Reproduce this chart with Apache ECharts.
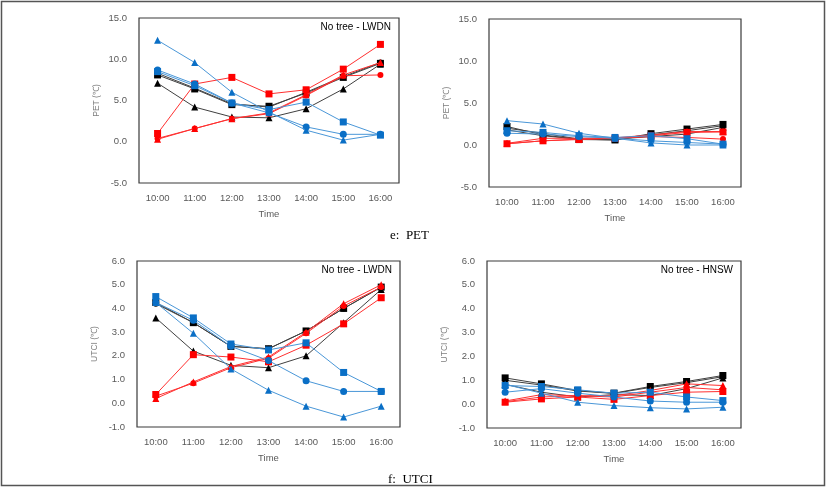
<!DOCTYPE html>
<html><head><meta charset="utf-8">
<script src="https://cdn.jsdelivr.net/npm/echarts@6/dist/echarts.min.js"></script>
<style>html,body{margin:0;padding:0;background:#fff}#c{width:827px;height:488px}</style>
</head><body><div id="c"></div>
<script>
// categories
const times = ['10:00','11:00','12:00','13:00','14:00','15:00','16:00'];

// Panel e-1: PET, No tree - LWDN
const petL_blueTri = [12.3, 9.6, 6.0, 3.6, 1.4, 0.2, 0.9];
const petL_blueCir = [8.7, 7.0, 4.7, 3.5, 1.8, 0.9, 0.9];
const petL_blueSq  = [8.5, 6.8, 4.7, 3.9, 4.8, 2.4, 0.8];
const petL_blackTri = [7.1, 4.2, 3.0, 2.9, 4.0, 6.4, 9.4];
const petL_blackCir = [8.3, 6.5, 4.6, 4.2, 6.0, 7.9, 9.6];
const petL_blackSq  = [8.1, 6.4, 4.5, 4.3, 5.9, 7.8, 9.5];
const petL_redTri = [0.3, 1.6, 2.8, 3.5, 5.7, 8.1, 9.6];
const petL_redCir = [0.4, 1.6, 2.8, 3.4, 5.6, 8.0, 8.1];
const petL_redSq  = [1.0, 7.0, 7.8, 5.8, 6.3, 8.8, 11.8];

// Panel e-2: PET, No tree - HNSW
const petH_blueTri = [2.9, 2.5, 1.4, 0.8, 0.25, 0.0, 0.0];
const petH_blueCir = [1.4, 1.3, 1.0, 0.8, 0.5, 0.3, 0.1];
const petH_blueSq  = [1.7, 1.5, 1.1, 0.9, 1.1, 0.75, 0.1];
const petH_blackTri = [1.8, 1.1, 0.7, 0.7, 1.0, 1.3, 2.1];
const petH_blackCir = [2.0, 1.4, 0.7, 0.6, 1.2, 1.7, 2.3];
const petH_blackSq  = [2.2, 1.2, 0.65, 0.6, 1.35, 1.9, 2.45];
const petH_redTri = [0.2, 0.8, 0.8, 0.85, 1.2, 1.6, 1.6];
const petH_redCir = [0.15, 0.5, 0.7, 0.8, 1.0, 0.9, 0.7];
const petH_redSq  = [0.15, 0.5, 0.65, 0.8, 1.1, 1.5, 1.55];

// Panel f-1: UTCI, No tree - LWDN
const utciL_blueTri = [4.25, 2.95, 1.45, 0.55, -0.12, -0.58, -0.12];
const utciL_blueCir = [4.25, 3.5, 2.4, 1.8, 0.95, 0.5, 0.5];
const utciL_blueSq  = [4.5, 3.6, 2.5, 2.25, 2.55, 1.3, 0.5];
const utciL_blackTri = [3.6, 2.2, 1.6, 1.5, 2.0, 3.4, 4.8];
const utciL_blackCir = [4.2, 3.4, 2.4, 2.3, 3.05, 4.0, 4.9];
const utciL_blackSq  = [4.25, 3.4, 2.4, 2.3, 3.05, 4.0, 4.9];
const utciL_redTri = [0.2, 0.9, 1.55, 1.95, 3.0, 4.2, 5.0];
const utciL_redCir = [0.3, 0.85, 1.5, 1.9, 2.95, 4.1, 4.9];
const utciL_redSq  = [0.37, 2.05, 1.95, 1.75, 2.45, 3.35, 4.45];

// Panel f-2: UTCI, No tree - HNSW
const utciH_blueTri = [0.83, 0.46, 0.08, -0.06, -0.15, -0.2, -0.13];
const utciH_blueCir = [0.5, 0.65, 0.46, 0.3, 0.13, 0.08, 0.08];
const utciH_blueSq  = [0.78, 0.74, 0.6, 0.46, 0.5, 0.3, 0.15];
const utciH_blackTri = [0.83, 0.5, 0.3, 0.4, 0.36, 0.65, 1.1];
const utciH_blackCir = [1.0, 0.8, 0.55, 0.45, 0.7, 0.9, 1.15];
const utciH_blackSq  = [1.1, 0.85, 0.57, 0.46, 0.74, 0.95, 1.2];
const utciH_redTri = [0.13, 0.4, 0.35, 0.35, 0.57, 0.85, 0.78];
const utciH_redCir = [0.1, 0.3, 0.35, 0.3, 0.5, 0.7, 0.6];
const utciH_redSq  = [0.08, 0.22, 0.3, 0.2, 0.36, 0.5, 0.53];

// y-axis ranges
const petMin = -5, petMax = 15, petStep = 5;
const utciMin = -1, utciMax = 6, utciStep = 1;

const panels = [
  {grid:{left:139, top:18, width:260, height:165}, min:petMin, max:petMax, step:petStep, yname:'PET (\u2103)', label:'No tree - LWDN',
   data:[petL_blackCir, petL_blackTri, petL_blackSq, petL_redCir, petL_redTri, petL_redSq, petL_blueCir, petL_blueTri, petL_blueSq]},
  {grid:{left:489, top:19, width:252, height:168}, min:petMin, max:petMax, step:petStep, yname:'PET (\u2103)', label:'',
   data:[petH_blackCir, petH_blackTri, petH_blackSq, petH_redCir, petH_redTri, petH_redSq, petH_blueCir, petH_blueTri, petH_blueSq]},
  {grid:{left:137, top:261, width:263, height:166}, min:utciMin, max:utciMax, step:utciStep, yname:'UTCI (\u2103)', label:'No tree - LWDN',
   data:[utciL_blackCir, utciL_blackTri, utciL_blackSq, utciL_redCir, utciL_redTri, utciL_redSq, utciL_blueCir, utciL_blueTri, utciL_blueSq]},
  {grid:{left:487, top:261, width:254, height:167}, min:utciMin, max:utciMax, step:utciStep, yname:'UTCI (\u2103)', label:'No tree - HNSW',
   data:[utciH_blackCir, utciH_blackTri, utciH_blackSq, utciH_redCir, utciH_redTri, utciH_redSq, utciH_blueCir, utciH_blueTri, utciH_blueSq]}
];
const styles = [
  {m:'circle', s:6, c:'#000000', l:'#404040'},
  {m:'triangle', s:7, c:'#000000', l:'#404040'},
  {m:'rect', s:7, c:'#000000', l:'#404040'},
  {m:'circle', s:6, c:'#ff0000', l:'#ff3030'},
  {m:'triangle', s:7, c:'#ff0000', l:'#ff3030'},
  {m:'rect', s:7, c:'#ff0000', l:'#ff3030'},
  {m:'circle', s:7, c:'#0a6fc6', l:'#4a97d8'},
  {m:'triangle', s:7, c:'#0a6fc6', l:'#4a97d8'},
  {m:'rect', s:7, c:'#0a6fc6', l:'#4a97d8'}
];
const axisFont = 'Liberation Sans';
const grids = [], xAxes = [], yAxes = [], series = [], graphics = [];
panels.forEach((p, i) => {
  grids.push(Object.assign({show:true, borderColor:'#3a3a3a', borderWidth:1.2, backgroundColor:'#fff'}, p.grid));
  xAxes.push({type:'category', gridIndex:i, data:times, boundaryGap:true,
    axisLine:{show:false}, axisTick:{show:false}, splitLine:{show:false},
    axisLabel:{color:'#595959', fontSize:9.5, fontFamily:axisFont, margin:10},
    name:'Time', nameLocation:'middle', nameGap:26, nameTextStyle:{color:'#595959', fontSize:9.5, fontFamily:axisFont}});
  yAxes.push({type:'value', gridIndex:i, min:p.min, max:p.max, interval:p.step,
    axisLine:{show:false}, axisTick:{show:false}, splitLine:{show:false},
    axisLabel:{color:'#595959', fontSize:9.5, fontFamily:axisFont, margin:12, formatter:v => v.toFixed(1)},
    name:p.yname, nameLocation:'middle', nameGap:38, nameRotate:90,
    nameTextStyle:{color:'#7f7f7f', fontSize:8.5, fontFamily:axisFont}});
  p.data.forEach((d, k) => {
    const st = styles[k];
    series.push({type:'line', xAxisIndex:i, yAxisIndex:i, data:d, symbol:st.m, symbolSize:st.s,
      itemStyle:{color:st.c}, lineStyle:{color:st.l, width:1}, animation:false, z:2+k});
  });
  if (p.label) {
    graphics.push({type:'text', right: 827 - (p.grid.left + p.grid.width) + 8, top: p.grid.top + 4,
      style:{text:p.label, font:'10px "Liberation Sans"', fill:'#000'}});
  }
});
graphics.push({type:'text', left:390, top:229, style:{text:'e:  PET', font:'13px "Liberation Serif"', fill:'#000'}});
graphics.push({type:'text', left:388, top:473, style:{text:'f:  UTCI', font:'13px "Liberation Serif"', fill:'#000'}});
graphics.push({type:'rect', shape:{x:1.5, y:1.5, width:823, height:484}, style:{fill:null, stroke:'#555', lineWidth:1.5}, z:-1});

const chart = echarts.init(document.getElementById('c'), null, {renderer:'canvas'});
chart.setOption({animation:false, backgroundColor:'#fff', grid:grids, xAxis:xAxes, yAxis:yAxes, series:series, graphic:graphics});
</script></body></html>
